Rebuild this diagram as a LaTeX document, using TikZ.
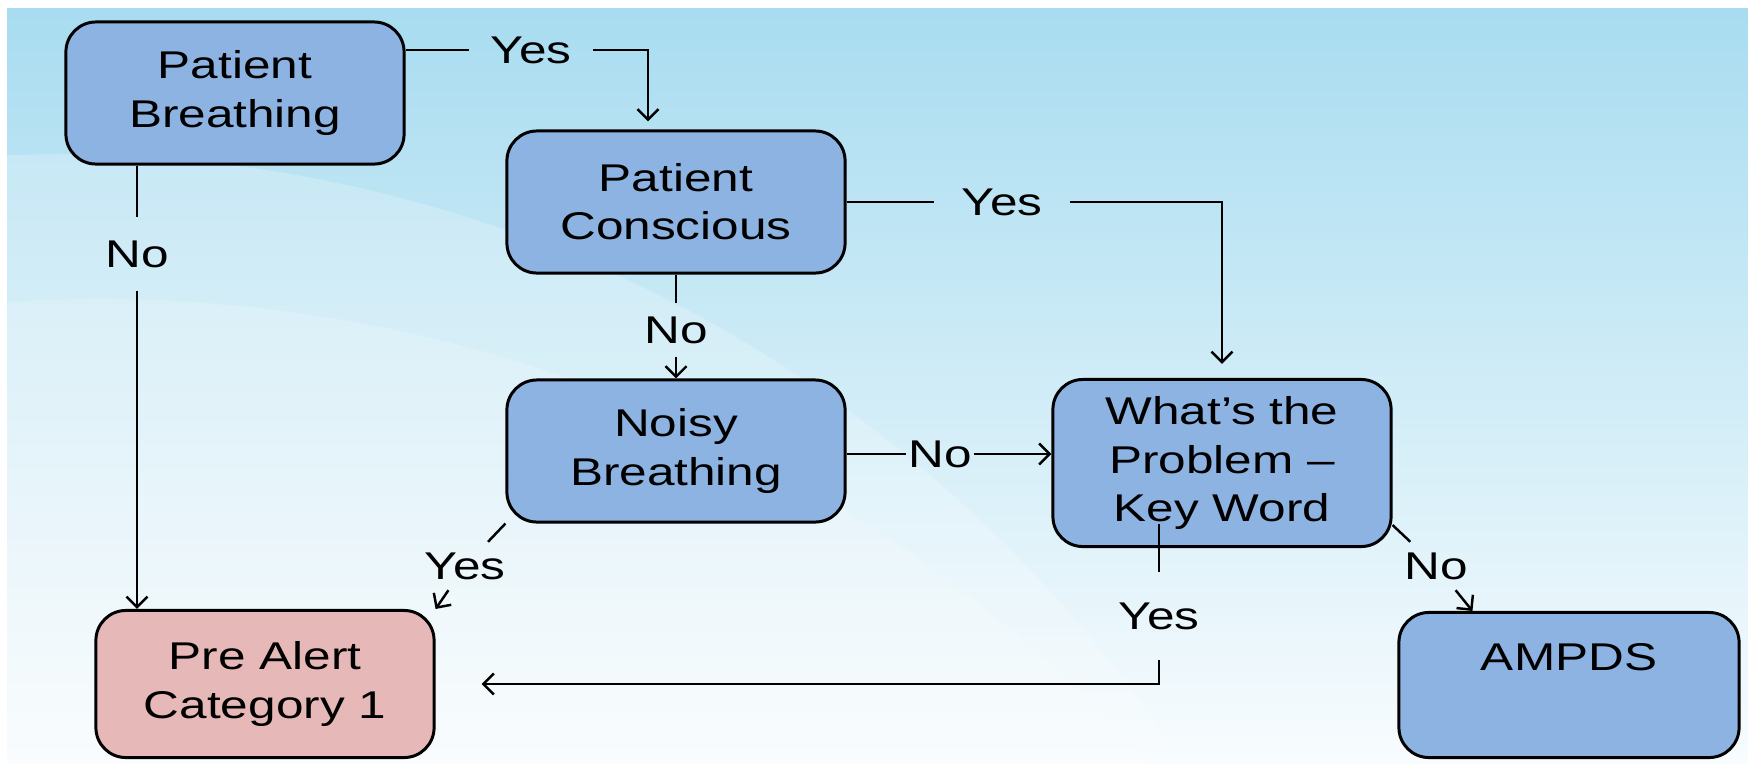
\documentclass[tikz,border=0pt]{standalone}
\usepackage{fontspec}
\setmainfont{Liberation Sans}[FakeStretch=1.28]
\usepackage{tikz}
\usetikzlibrary{arrows.meta}

\definecolor{boxblue}{HTML}{8DB3E2}
\definecolor{boxred}{HTML}{E6B9B8}
\definecolor{bgtop}{HTML}{A8DCF0}
\definecolor{bgmid}{HTML}{DCF0F9}
\definecolor{bgbot}{HTML}{F8FCFE}
\newcommand{\chartfont}{\fontsize{11}{13.7}\selectfont}

\begin{document}
\begin{tikzpicture}[x=0.01cm, y=-0.01cm, font=\chartfont,
    box/.style={draw, line width=0.85pt, rounded corners=0.3cm, fill=boxblue,
        align=center, minimum width=3.38cm, minimum height=1.42cm},
    lbl/.style={inner sep=0.1cm},
    line/.style={line width=0.7pt},
    arr/.style={line width=0.7pt, -{Straight Barb[length=3pt,width=6pt]}}]
    \useasboundingbox (0,0) rectangle (1748,763);

    % background
    \shade[top color=bgtop, middle color=bgmid, bottom color=bgbot] (7,8) rectangle (1748,763);
    \begin{scope}
        \clip (7,8) rectangle (1748,763);
        \fill[white, opacity=0.22] (60,1494) circle (13.39cm);
        \fill[white, opacity=0.18] (100,1720) circle (14.2cm);
    \end{scope}

    % boxes
    \node[box] (pb) at (235,93) {Patient\\Breathing};
    \node[box] (pc) at (676,202) {Patient\\Conscious};
    \node[box] (nb) at (676,451) {Noisy\\Breathing};
    \node[box, minimum height=1.67cm] (wp) at (1222,463) {What’s the\\Problem –\\Key Word};
    \node[box, fill=boxred, minimum height=1.47cm] (pa) at (265,684) {Pre Alert\\Category 1};
    \node[box, minimum width=3.4cm, text height=0.41cm, text depth=0.70cm,
        inner ysep=0.17cm] (am) at (1569,685) {AMPDS};

    % answers
    \node[lbl, inner xsep=0.21cm] (y1) at (531,50) {Yes};
    \node[lbl, inner ysep=0.23cm] (n1) at (137,254) {No};
    \node[lbl, inner xsep=0.27cm] (y2) at (1002,202) {Yes};
    \node[lbl, inner ysep=0.13cm] (n2) at (676,330) {No};
    \node[lbl, inner xsep=0.02cm] (n3) at (940,454) {No};
    \node[lbl] (y3) at (465,566) {Yes};
    \node[lbl, inner ysep=0.3cm] (y4) at (1159,616) {Yes};
    \node[lbl] (n4) at (1436,566) {No};
    \coordinate (kw) at (1159,524);

    \draw[line] (pb.east |- y1) -- (y1);
    \draw[arr, shorten >=0.08cm] (y1) -| ([xshift=-0.28cm]pc.north);
    \draw[line] (pb.south -| n1) -- (n1);
    \draw[arr] (n1) -- (n1 |- pa.north);
    \draw[line] (pc) -- (y2);
    \draw[arr, shorten >=0.14cm] (y2) -| (wp.north);
    \draw[line] (pc) -- (n2);
    \draw[arr] (n2) -- (nb);
    \draw[line] (nb.east |- n3) -- (n3);
    \draw[arr] (n3) -- (n3 -| wp.west);
    \draw[line] (nb.south west) -- (y3);
    \draw[arr] (y3) -- (pa.north east);
    \draw[line] (kw) -- (y4);
    \draw[arr, shorten >=0.46cm] (y4) |- (pa.east);
    \draw[line] (wp.-20) -- (n4);
    \draw[arr] (n4) -- ([xshift=0.75cm]am.north west);

\end{tikzpicture}
\end{document}
